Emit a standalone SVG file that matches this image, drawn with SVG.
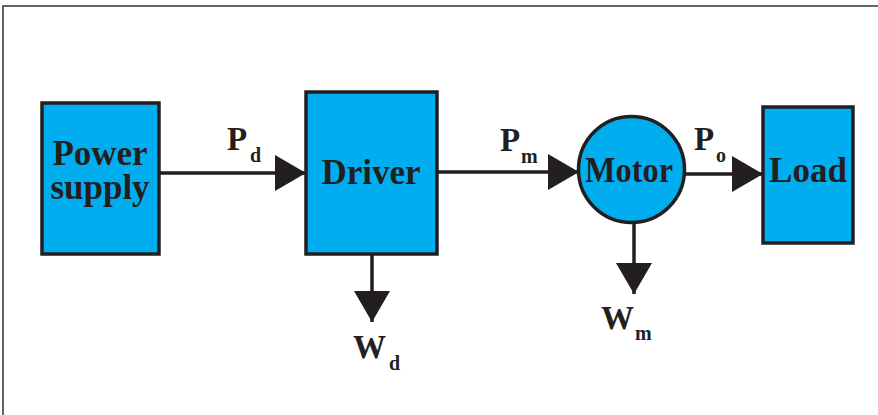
<svg xmlns="http://www.w3.org/2000/svg" width="878" height="415" viewBox="0 0 878 415">
  <style>
    .blk { fill: #00AEEF; stroke: #231F20; stroke-width: 3.5; }
    .lbl { font-family: "Liberation Serif", "Times New Roman", serif; font-weight: bold; fill: #231F20; }
    .big { font-size: 35px; text-anchor: middle; }
    .sym { font-size: 33px; }
    .sub { font-size: 20px; }
    .wire { fill: none; stroke: #231F20; stroke-width: 3.5; marker-end: url(#head); }
  </style>
  <defs>
    <marker id="head" viewBox="0 0 31 36" refX="31" refY="18" markerWidth="31" markerHeight="36" markerUnits="userSpaceOnUse" orient="auto">
      <path d="M0,0 L31,18 L0,36 Z" fill="#231F20"/>
    </marker>
  </defs>
  <rect width="878" height="415" fill="#ffffff"/>
  <!-- frame -->
  <rect x="3" y="6" width="900" height="430" fill="none" stroke="#333333" stroke-width="1.5"/>

  <g id="connectors">
    <path class="wire" d="M159,173 L306,173"/>
    <path class="wire" d="M437,172 L579,172"/>
    <path class="wire" d="M684,174 L763,174"/>
    <path class="wire" d="M372,254 L372,322"/>
    <path class="wire" d="M634,222 L634,294"/>
  </g>

  <g id="power-supply">
    <rect class="blk" x="42" y="103" width="117" height="151"/>
    <text class="lbl big"><tspan x="100" y="165">Power</tspan><tspan x="100" y="199">supply</tspan></text>
  </g>

  <g id="driver">
    <rect class="blk" x="306" y="92" width="131" height="162"/>
    <text class="lbl big" x="371" y="184">Driver</text>
  </g>

  <g id="motor">
    <circle class="blk" cx="631.5" cy="169.5" r="53"/>
    <text class="lbl big" x="629" y="182" textLength="88" lengthAdjust="spacingAndGlyphs">Motor</text>
  </g>

  <g id="load">
    <rect class="blk" x="763" y="107" width="90" height="136"/>
    <text class="lbl big" x="808" y="182">Load</text>
  </g>

  <g id="labels">
    <text class="lbl sym" x="227" y="150">P</text>
    <text class="lbl sub" x="250" y="162">d</text>
    <text class="lbl sym" x="500" y="151">P</text>
    <text class="lbl sub" x="521" y="163">m</text>
    <text class="lbl sym" x="694" y="150">P</text>
    <text class="lbl sub" x="716" y="162">o</text>
    <text class="lbl sym" x="353" y="358">W</text>
    <text class="lbl sub" x="389" y="370">d</text>
    <text class="lbl sym" x="601" y="329">W</text>
    <text class="lbl sub" x="635" y="340">m</text>
  </g>
</svg>
